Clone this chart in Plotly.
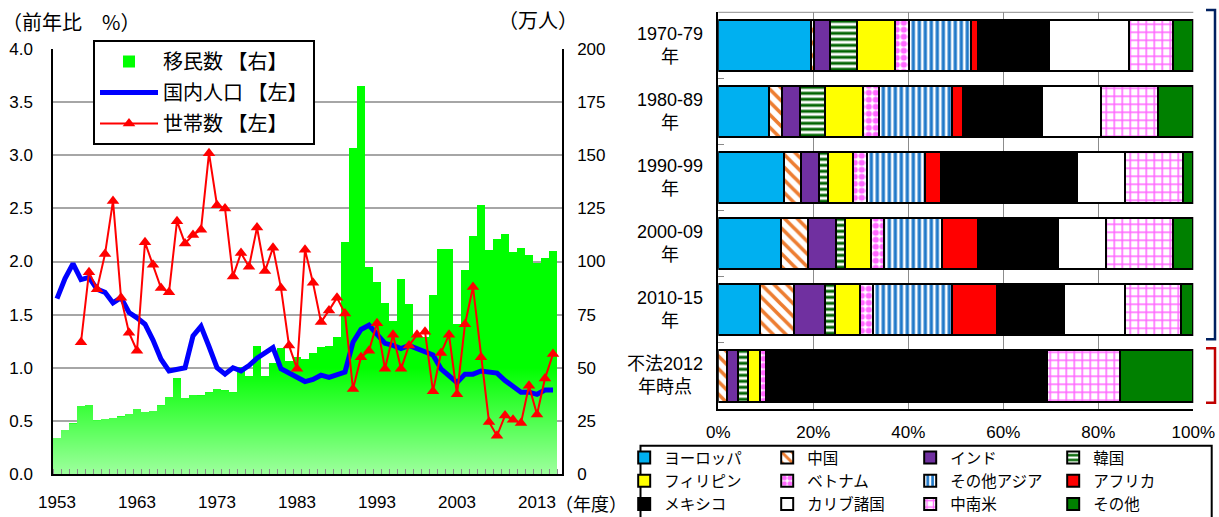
import plotly.graph_objects as go

# ---------------------------------------------------------------- canvas
W, H = 1219, 517
MARGIN_R = 24
PW = W - MARGIN_R          # plotting width (left/top/bottom margins are 0)


def px(x):
    """pixel column -> paper x"""
    return x / PW


def py(y):
    """pixel row (from top) -> paper y"""
    return 1 - y / H


FONT = "Liberation Sans, Noto Sans CJK JP"
CJK = "Noto Sans CJK JP"

# ---------------------------------------------------------------- left chart data
years = list(range(1953, 2016))

# 移民数 (万人)
immigrants = [
    17.0, 20.8, 23.8, 32.2, 32.7, 25.3, 26.1, 26.5, 27.1, 28.4,
    30.6, 29.2, 29.7, 32.3, 36.2, 45.4, 35.9, 37.3, 37.0, 38.5,
    40.0, 39.4, 38.5, 50.2, 46.2, 60.1, 46.0, 52.4, 59.5, 53.4,
    55.0, 54.2, 56.8, 60.0, 60.2, 64.3, 109.0, 153.6, 182.7, 97.4,
    90.4, 80.4, 72.0, 91.6, 79.8, 65.3, 64.5, 84.1, 105.9, 105.9,
    70.4, 95.8, 112.2, 126.6, 105.2, 110.7, 113.1, 104.3, 106.2, 103.2,
    99.1, 101.7, 105.1,
]

# 国内人口 前年比 (%)
population = [
    1.65, 1.84, 1.98, 1.83, 1.85, 1.74, 1.71, 1.61, 1.66, 1.52,
    1.47, 1.41, 1.26, 1.08, 0.97, 0.99, 1.00, 1.30, 1.39, 1.20,
    1.00, 0.94, 1.00, 0.97, 1.02, 1.09, 1.14, 1.19, 0.99, 0.95,
    0.91, 0.87, 0.89, 0.93, 0.91, 0.93, 0.96, 1.24, 1.36, 1.40,
    1.31, 1.23, 1.21, 1.18, 1.21, 1.18, 1.16, 1.12, 0.99, 0.93,
    0.86, 0.94, 0.94, 0.97, 0.96, 0.95, 0.88, 0.83, 0.77, 0.77,
    0.75, 0.79, 0.79,
]

# 世帯数 前年比 (%) — series starts in 1956
households = [
    None, None, None, 1.24, 1.90, 1.74, 2.07, 2.57, 1.66, 1.33,
    1.16, 2.18, 1.97, 1.75, 1.71, 2.38, 2.17, 2.25, 2.30, 3.02,
    2.53, 2.50, 1.86, 2.08, 1.95, 2.32, 1.91, 2.13, 1.75, 1.21,
    0.99, 2.11, 1.80, 1.43, 1.54, 1.66, 1.51, 0.80, 1.10, 1.16,
    1.42, 0.99, 1.31, 0.99, 1.21, 1.31, 1.34, 0.78, 1.14, 1.31,
    0.75, 1.41, 1.76, 1.10, 0.49, 0.36, 0.55, 0.51, 0.48, 0.83,
    0.56, 0.90, 1.13,
]

# ---------------------------------------------------------------- right chart data
periods = ["1970-79年", "1980-89年", "1990-99年", "2000-09年", "2010-15年", "不法2012年時点"]
period_labels = ["1970-79<br>年", "1980-89<br>年", "1990-99<br>年",
                 "2000-09<br>年", "2010-15<br>年", "不法2012<br>年時点"]

# shares by origin (%)
europe = [19.5, 10.7, 13.9, 13.2, 8.8, 0.0]
china = [0.6, 2.8, 3.6, 5.7, 7.2, 1.8]
india = [3.4, 3.6, 3.6, 5.8, 6.4, 2.4]
korea = [5.7, 5.3, 1.9, 2.0, 2.1, 2.0]
philippines = [8.1, 8.1, 5.4, 5.5, 5.3, 2.6]
vietnam = [2.9, 3.3, 3.0, 2.7, 2.8, 1.3]
other_asia = [12.9, 15.5, 12.1, 12.2, 16.5, 0.0]
africa = [1.5, 2.2, 3.4, 7.5, 9.6, 0.0]
mexico = [15.1, 16.6, 28.6, 16.9, 14.0, 59.0]
caribbean = [16.8, 12.5, 10.2, 10.1, 12.9, 0.0]
latin_america = [9.2, 11.9, 12.2, 14.1, 11.8, 15.5]
others = [4.3, 7.5, 2.1, 4.3, 2.6, 15.4]

WHITE = "#FFFFFF"
region_series = [
    ("ヨーロッパ", europe, dict(color="#00B0F0")),
    ("中国", china, dict(color=WHITE, pattern=dict(shape="\\", fgcolor="#ED7D31", bgcolor=WHITE,
                                                   size=9, solidity=0.4, fillmode="replace"))),
    ("インド", india, dict(color="#7030A0")),
    ("韓国", korea, dict(color=WHITE, pattern=dict(shape="-", fgcolor="#006400", bgcolor=WHITE,
                                                 size=6, solidity=0.5, fillmode="replace"))),
    ("フィリピン", philippines, dict(color="#FFFF00")),
    ("ベトナム", vietnam, dict(color=WHITE, pattern=dict(shape=".", fgcolor="#FF66FF", bgcolor=WHITE,
                                                   size=7, solidity=0.6, fillmode="replace"))),
    ("その他アジア", other_asia, dict(color=WHITE, pattern=dict(shape="|", fgcolor="#1F78C8", bgcolor=WHITE,
                                                        size=6, solidity=0.55, fillmode="replace"))),
    ("アフリカ", africa, dict(color="#FF0000")),
    ("メキシコ", mexico, dict(color="#000000")),
    ("カリブ諸国", caribbean, dict(color=WHITE)),
    ("中南米", latin_america, dict(color=WHITE, pattern=dict(shape="+", fgcolor="#FF66FF", bgcolor=WHITE,
                                                       size=8, solidity=0.35, fillmode="replace"))),
    ("その他", others, dict(color="#008000")),
]

# ---------------------------------------------------------------- figure
fig = go.Figure()

# immigrant bars (right axis, base y)
fig.add_trace(go.Bar(
    x=years, y=immigrants, name="移民数 【右】",
    marker=dict(color="#00FF00", line=dict(width=0)),
    width=0.88, xaxis="x", yaxis="y",
    legend="legend", legendgroup="imm",
))

# pale vertical fade over the lower part of the bars
FADE_TOP = 50
edges = [y - 0.5 for y in years] + [years[-1] + 0.5]
fade = [min(v, FADE_TOP) for v in immigrants]
fade = fade + [fade[-1]]
fig.add_trace(go.Scatter(
    x=edges, y=fade, mode="lines", line=dict(width=0, shape="hv"),
    fill="tozeroy",
    fillgradient=dict(type="vertical", start=0, stop=FADE_TOP,
                      colorscale=[[0, "rgba(255,255,255,0.62)"], [1, "rgba(255,255,255,0)"]]),
    hoverinfo="skip", showlegend=False, xaxis="x", yaxis="y",
))

# population and household growth (left axis, overlay y2)
fig.add_trace(go.Scatter(
    x=years, y=population, mode="lines", name="国内人口 【左】",
    line=dict(color="#0000FF", width=5),
    xaxis="x", yaxis="y2", legend="legend", legendgroup="pop",
))
fig.add_trace(go.Scatter(
    x=years, y=households, mode="lines+markers", name="世帯数 【左】",
    line=dict(color="#FF0000", width=2),
    marker=dict(symbol="triangle-up", size=11, color="#FF0000"),
    xaxis="x", yaxis="y2", legend="legend", legendgroup="hh",
))

# stacked shares by origin
for name, vals, style in region_series:
    marker = dict(line=dict(color="#000000", width=2), **style)
    fig.add_trace(go.Bar(
        y=periods, x=vals, orientation="h", name=name,
        marker=marker, width=0.774,
        xaxis="x2", yaxis="y3", legend="legend2",
    ))

TICKFONT = dict(family=FONT, size=17, color="#000000")

fig.update_layout(
    width=W, height=H,
    margin=dict(l=0, r=MARGIN_R, t=0, b=0, autoexpand=False),
    paper_bgcolor="white", plot_bgcolor="white",
    font=dict(family=FONT, size=17, color="#000000"),
    barmode="stack",
    xaxis=dict(
        domain=[px(53), px(562)], anchor="y",
        range=[1952.5, 2016.125], tick0=1953, dtick=10,
        ticks="", showgrid=False, zeroline=False,
        showline=True, linecolor="#000000", linewidth=1.5,
        tickfont=TICKFONT, ticklabelstandoff=12,
        minor=dict(tick0=1952.5, dtick=1, ticks="inside", ticklen=5,
                   tickcolor="#8a8a8a", tickwidth=1, showgrid=False),
    ),
    yaxis=dict(
        domain=[py(474), py(49)], anchor="x", side="right",
        range=[0, 200], dtick=25, ticks="",
        showgrid=True, gridcolor="#a6a6a6", gridwidth=1.5, zeroline=False,
        showline=True, linecolor="#000000", linewidth=1.5,
        tickfont=TICKFONT, ticklabelstandoff=10,
    ),
    yaxis2=dict(
        overlaying="y", anchor="x", side="left",
        range=[0, 4], dtick=0.5, tickformat=".1f", ticks="",
        showgrid=False, zeroline=False,
        showline=True, linecolor="#000000", linewidth=1.5,
        tickfont=TICKFONT, ticklabelstandoff=15,
    ),
    xaxis2=dict(
        domain=[px(718.3), px(1193.3)], anchor="y3",
        range=[0, 100], dtick=20, ticksuffix="%", ticks="",
        showgrid=True, gridcolor="#8c8c8c", gridwidth=1, zeroline=False,
        showline=True, linecolor="#000000", linewidth=1.5,
        tickfont=TICKFONT, ticklabelstandoff=7,
    ),
    yaxis3=dict(
        domain=[py(409), py(12.3)], anchor="x2",
        type="category", categoryorder="array", categoryarray=periods,
        autorange="reversed", showticklabels=False,
        ticks="inside", tickson="boundaries", ticklen=6, tickcolor="#8a8a8a",
        showgrid=False, zeroline=False,
        showline=True, linecolor="#000000", linewidth=1.5,
    ),
    legend=dict(
        x=px(93), y=py(40), xanchor="left", yanchor="top",
        bgcolor="white", bordercolor="#000000", borderwidth=2,
        font=dict(family=CJK, size=20, color="#000000"),
        itemwidth=58, traceorder="grouped", tracegroupgap=2,
    ),
    legend2=dict(
        orientation="h", x=1.001, xanchor="right", y=py(441), yanchor="top",
        entrywidth=98, entrywidthmode="pixels",
        bgcolor="rgba(0,0,0,0)", borderwidth=0,
        font=dict(family=CJK, size=15.5, color="#000000"),
        traceorder="normal",
    ),
)

# axis captions
annotations = [
    dict(text="（前年比　%）", x=px(71), y=py(21), size=20),
    dict(text="（万人）", x=px(538), y=py(20), size=20),
    dict(text="（年度）", x=px(591), y=py(503), size=18),
]
for a in annotations:
    fig.add_annotation(xref="paper", yref="paper", showarrow=False,
                       xanchor="center", yanchor="middle",
                       text=a["text"], x=a["x"], y=a["y"],
                       font=dict(family=CJK, size=a["size"], color="#000000"))

# period labels beside the stacked bars
for cat, lab in zip(periods, period_labels):
    fig.add_annotation(text=lab, xref="x2 domain", yref="y3", x=-0.028, y=cat,
                       xanchor="right", yanchor="middle", align="center",
                       showarrow=False, font=dict(family=FONT, size=18, color="#000000"))

# top frame line of the share chart
fig.add_shape(type="line", xref="x2 domain", yref="y3 domain", x0=0, x1=1, y0=1, y1=1,
              line=dict(color="#8c8c8c", width=1))


def bracket(top, bottom, color):
    xl, xr = px(1206), px(1215)
    path = (f"M {xl},{py(top)} L {xr},{py(top)} L {xr},{py(bottom)} L {xl},{py(bottom)}")
    fig.add_shape(type="path", xref="paper", yref="paper", path=path,
                  line=dict(color=color, width=2.5))


bracket(10, 339.3, "#002060")
bracket(348.3, 402.7, "#C00000")

# frame around the origin legend
fig.add_shape(type="rect", xref="paper", yref="paper",
              x0=px(640.5), x1=px(1211.7), y0=py(445.7), y1=py(530),
              line=dict(color="#000000", width=2), fillcolor="rgba(0,0,0,0)")

fig.write_html("out.html")
